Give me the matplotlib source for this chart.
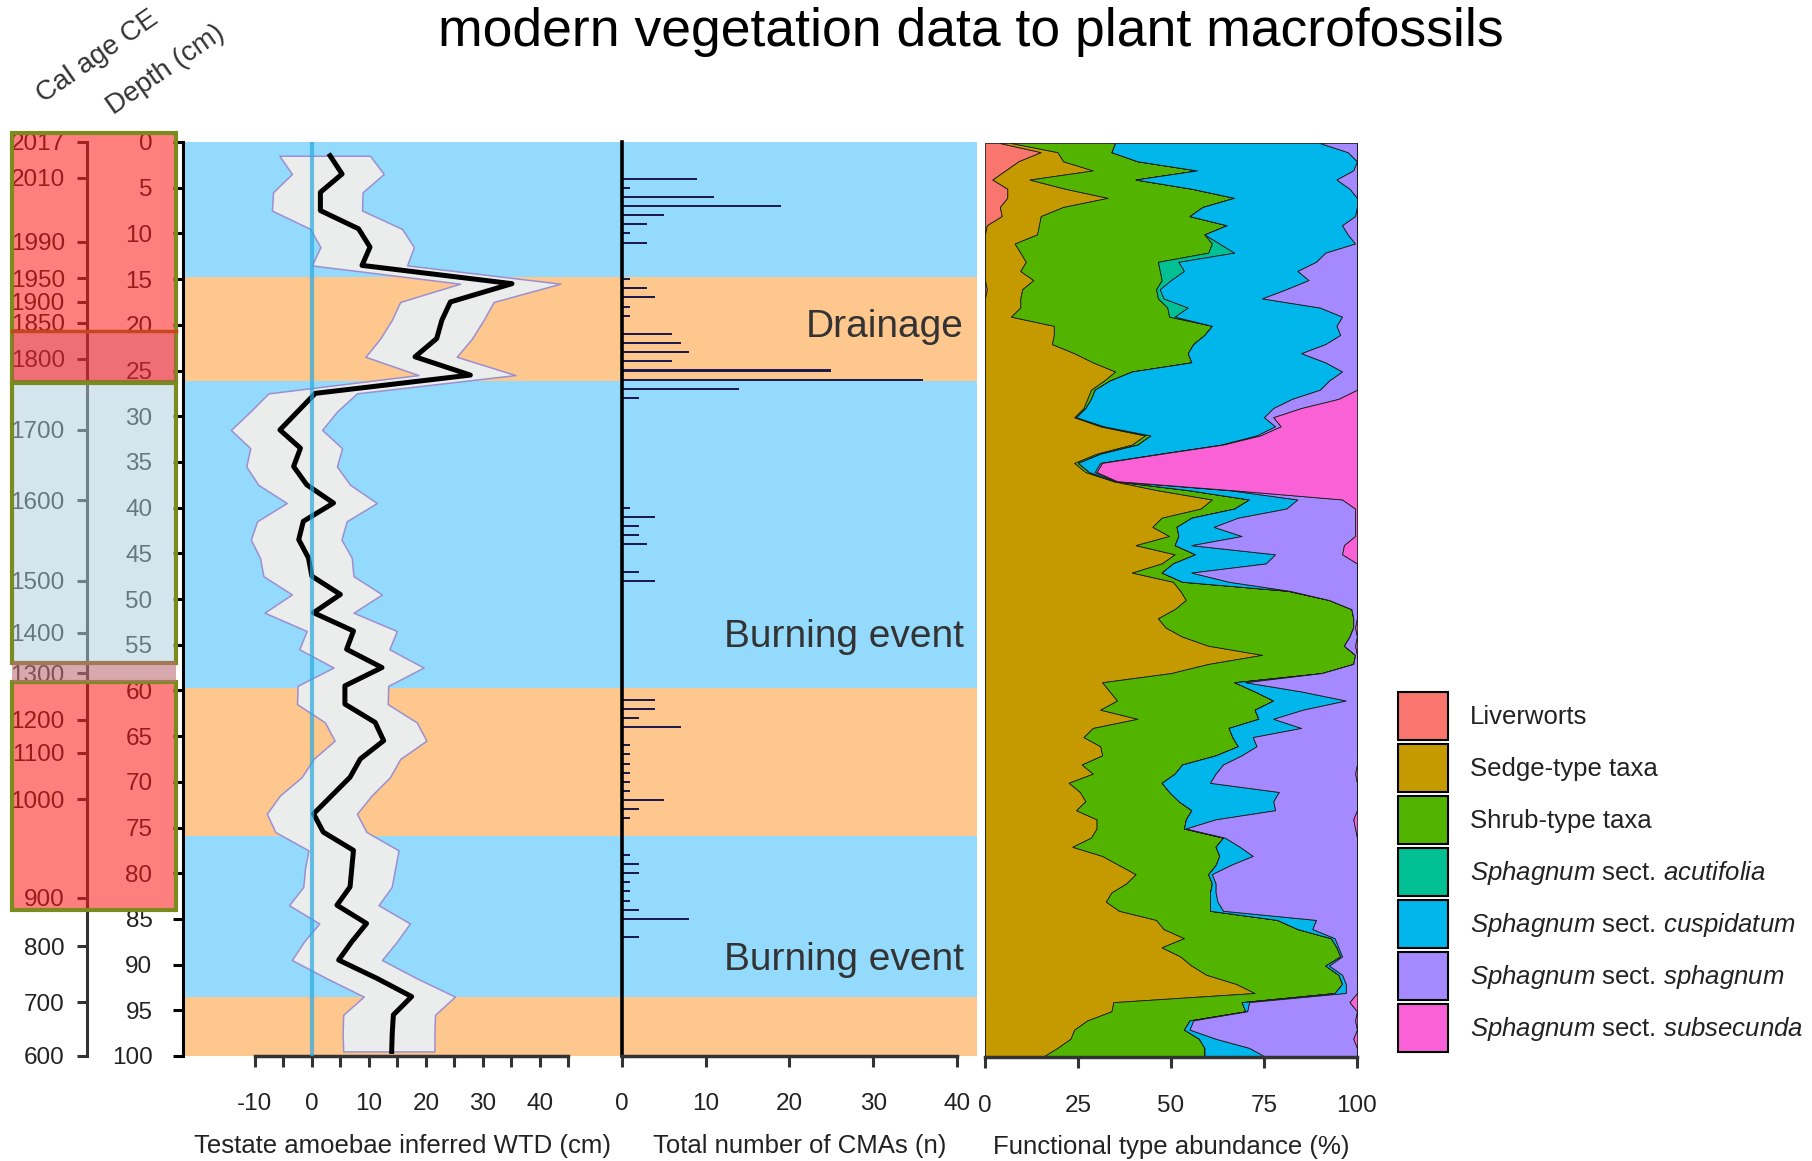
import numpy as np
import matplotlib
matplotlib.use('Agg')
import matplotlib.pyplot as plt
from matplotlib.patches import Patch, Rectangle

plt.rcParams['font.family'] = ['Liberation Sans', 'DejaVu Sans']
plt.rcParams['mathtext.fontset'] = 'custom'
plt.rcParams['mathtext.rm'] = 'Liberation Sans'
plt.rcParams['mathtext.it'] = 'Liberation Sans:italic'
plt.rcParams['axes.unicode_minus'] = False

W, H = 1812, 1161

# ---------------- data ----------------
# hydrological zones (depth in cm), wet = blue, dry = orange
zone_top = [0, 14.8, 26.2, 59.7, 75.9, 93.5]
zone_bottom = [14.8, 26.2, 59.7, 75.9, 93.5, 100]
zone_wet = [True, False, True, False, True, False]

# age-depth scale
age_labels = ['2017', '2010', '1990', '1950', '1900', '1850', '1800', '1700', '1600',
              '1500', '1400', '1300', '1200', '1100', '1000', '900', '800', '700', '600']
age_depth = [0, 3.9, 10.9, 14.9, 17.5, 19.8, 23.7, 31.5, 39.2,
             48.0, 53.7, 58.1, 63.2, 66.8, 71.9, 82.7, 88.0, 94.1, 100]

# testate amoebae inferred water table depth (cm)
wtd_depth = [1.5, 3.5, 5.5, 7.5, 9.5, 11.5, 13.5, 15.5, 17.5, 19.5,
             21.5, 23.5, 25.5, 27.5, 29.5, 31.5, 33.5, 35.5, 37.5, 39.5,
             41.5, 43.5, 45.5, 47.5, 49.5, 51.5, 53.5, 55.5, 57.5, 59.5,
             61.5, 63.5, 65.5, 67.5, 69.5, 71.5, 73.5, 75.5, 77.5, 79.5,
             81.5, 83.5, 85.5, 87.5, 89.5, 91.5, 93.5, 95.5, 97.5, 99.5]
wtd_mean = [3.2, 5.3, 1.5, 1.5, 8.2, 10.2, 8.8, 35.1, 24.3, 22.8,
            21.9, 18.1, 27.8, 0.6, -2.5, -5.6, -2.0, -3.2, -0.9, 3.8,
            -1.5, -2.3, -0.6, 0.0, 5.0, 0.3, 7.3, 6.1, 12.3, 5.8,
            5.8, 11.1, 12.6, 8.5, 6.7, 3.5, 0.3, 2.0, 7.3, 7.0,
            6.7, 4.4, 9.6, 7.0, 4.7, 11.4, 17.5, 14.3, 14.1, 14.0]
wtd_lo = [-5.7, -3.5, -6.8, -7.0, -0.3, 1.5, 0.0, 26.0, 15.5, 14.0,
          12.0, 9.4, 18.7, -7.6, -10.8, -14.2, -10.8, -11.5, -9.4, -4.4,
          -9.6, -10.7, -9.1, -8.5, -3.5, -8.3, -0.9, -2.2, 3.8, -2.5,
          -2.6, 2.3, 4.0, 0.3, -1.8, -5.6, -7.9, -6.4, -0.6, -1.2,
          -1.5, -4.0, 1.3, -1.4, -3.5, 2.6, 9.1, 5.5, 5.4, 5.5]
wtd_hi = [10.2, 12.6, 8.9, 8.8, 15.8, 17.9, 16.7, 43.6, 31.9, 30.1,
          28.1, 25.4, 35.7, 7.9, 4.4, 1.8, 5.3, 4.4, 6.7, 11.4,
          6.1, 5.2, 7.0, 7.3, 12.3, 7.3, 14.9, 13.6, 19.6, 13.4,
          13.3, 18.4, 20.1, 15.5, 13.7, 10.5, 7.9, 9.6, 15.2, 14.6,
          14.0, 11.7, 17.2, 14.9, 12.3, 18.4, 25.1, 21.6, 21.5, 21.5]

# charcoal morphotypes per sample
cma_depth = [4, 5, 6, 7, 8, 9, 10, 11, 15, 16, 17, 18, 19,
             21, 22, 23, 24, 25, 26, 27, 28, 40, 41, 42, 43, 44, 47, 48,
             61, 62, 63, 64, 66, 67, 68, 69, 70, 71, 72, 73, 74,
             78, 79, 80, 81, 82, 83, 84, 85, 87]
cma_count = [9, 1, 11, 19, 5, 3, 1, 3, 1, 3, 4, 1, 1,
             6, 7, 8, 6, 25, 36, 14, 2, 1, 4, 2, 2, 3, 2, 4,
             4, 4, 2, 7, 1, 1, 1, 1, 1, 1, 5, 2, 1,
             1, 2, 2, 1, 1, 1, 2, 8, 2]

# plant macrofossil functional types (%), 1 cm slices
veg_depth = list(range(0, 101))
liverworts = [4, 15, 9, 5.5, 2, 6, 6, 4, 4.5, 0.5,
              0, 0, 0, 0, 0, 0, 0.5, 0, 0, 0,
              0, 0, 0, 0, 0, 0, 0, 0, 0, 0,
              0, 0, 0, 0, 0, 0, 0, 0, 0, 0,
              0, 0, 0, 0, 0, 0, 0, 0, 0, 0,
              0, 0, 0, 0, 0, 0, 0, 0, 0, 0,
              0, 0, 0, 0, 0, 0, 0, 0, 0, 0,
              0, 0, 0, 0, 0, 0, 0, 0, 0, 0,
              0, 0, 0, 0, 0, 0, 0, 0, 0, 0,
              0, 0, 0, 0, 0, 0, 0, 0, 0, 0,
              0]
sedge = [3, 4.5, 12, 23.5, 10, 15.5, 27, 17, 10.5, 14,
         14, 8, 9.5, 11, 9.5, 13, 9.5, 9.5, 9.5, 7,
         18.5, 18.5, 18, 24, 29, 35, 32, 28.5, 27.5, 26.5,
         24, 31, 43, 39.5, 30, 24, 27, 34.5, 46.5, 61,
         58, 47.5, 45, 49.5, 40.5, 51, 47.5, 39.5, 50.5, 52.5,
         54, 51, 46.5, 48.5, 53, 60, 74.5, 60, 50, 31.5,
         33.5, 35.5, 31, 41, 29, 26.5, 31, 31.5, 26, 29,
         22.5, 25.5, 27, 24.5, 30, 30, 28.5, 23.5, 31.5, 36,
         40.5, 38, 34, 32.5, 36, 46, 48, 53.5, 47.5, 52.5,
         55.5, 59.5, 67.5, 72.5, 34.5, 34, 27.5, 24, 23, 19.5,
         15.5]
shrub = [28, 14.5, 20, 28, 28.5, 34, 34, 37.5, 40, 50.5,
         45, 53, 50.5, 35.5, 37.5, 34.5, 36, 37, 39.5, 42.5,
         42.5, 40.5, 38, 30.5, 26.5, 4.5, 1.5, 1, 1, 0.5,
         0.5, 1, 1.5, 1.5, 1, 1, 1, 0.5, 8.5, 10,
         9, 8, 6.5, 2.5, 10.5, 5.5, 3, 8, 2.5, 29,
         38.5, 47.5, 52.5, 50.5, 45, 36.5, 25, 39, 40.5, 35.5,
         39, 42, 41.5, 32.5, 36.5, 40, 37, 30.5, 27, 22,
         25, 24, 25, 31, 24, 23.5, 35.5, 38.5, 31.5, 26,
         19.5, 23, 26.5, 28, 24.5, 32.5, 36, 39.5, 47, 43,
         36, 35.5, 28.5, 21.5, 34.5, 36, 27.5, 29.5, 34.5, 39.5,
         43.5]
acutifolia = [0, 0, 0, 0, 0, 0, 0, 0, 0, 0,
              0, 2, 7, 5.5, 6.5, 2.5, 1, 1.5, 5.5, 1.5,
              0, 0, 0, 0, 0, 0, 0, 0, 0, 0,
              0, 0, 0, 0, 0, 0, 0, 0, 0, 0,
              0, 0, 0, 0, 0, 0, 0, 0, 0, 0,
              0, 0, 0, 0, 0, 0, 0, 0, 0, 0,
              0, 0, 0, 0, 0, 0, 0, 0, 0, 0,
              0, 0, 0, 0, 0, 0, 0, 0, 0, 0,
              0, 0, 0, 0, 0, 0, 0, 0, 0, 0,
              0, 0, 0, 0, 0, 0, 0, 0, 0, 0,
              0]
cuspidatum = [55, 63.5, 59, 42, 54, 42.5, 33, 41.5, 44.5, 31,
              38.5, 36.5, 24.5, 37, 30.5, 37, 34, 26.5, 35.5, 45,
              33.5, 36.5, 35.5, 30.5, 36, 56.5, 59, 60.5, 54, 50.5,
              50.5, 46, 28.5, 22.5, 16, 6, 1.5, 0.5, 11, 13,
              14, 12.5, 10, 17, 4.5, 21.5, 25, 8, 12.5, 0.5,
              0, 0, 0, 0, 0, 0, 0, 0, 0, 3,
              12.5, 19.5, 13, 4, 19.5, 5.5, 5, 7, 11, 11,
              13, 29.5, 25.5, 22.5, 8, 0.5, 0.5, 6.5, 9, 4,
              1, 1, 1.5, 2, 3.5, 10.5, 4, 1, 0.5, 0.5,
              1, 1, 1, 3, 2, 0.5, 1, 1.5, 4.5, 12,
              16.5]
sphagnum = [10, 2.5, 0, 1, 5.5, 2, 0, 0, 0.5, 4,
            2.5, 0.5, 8.5, 11, 16, 13, 19, 25.5, 10, 4,
            5.5, 4.5, 8.5, 15, 8.5, 4, 7.5, 10, 12.5, 7.5,
            2.5, 1.5, 1, 0.5, 0.5, 0.5, 0.5, 0, 1, 12,
            18.5, 31.5, 38, 30.5, 41, 18, 24.5, 44.5, 34.5, 18,
            7.5, 1.5, 1, 0.5, 2, 3, 0.5, 1, 9.5, 30,
            15, 3, 14.5, 22.5, 15, 28, 27, 31, 36, 37.5,
            39.5, 21, 22.5, 22, 37, 45.5, 35.5, 31.5, 28, 34,
            39, 38, 38, 37.5, 36, 11, 12, 6, 5, 4,
            7.5, 4, 3, 3, 27, 29.5, 43.5, 45, 37, 29,
            24.5]
subsecunda = [0, 0, 0, 0, 0, 0, 0, 0, 0, 0,
              0, 0, 0, 0, 0, 0, 0, 0, 0, 0,
              0, 0, 0, 0, 0, 0, 0, 0, 5, 15,
              22.5, 20.5, 26, 36, 52.5, 68.5, 70, 64.5, 33, 4,
              0.5, 0.5, 0.5, 0.5, 3.5, 4, 0, 0, 0, 0,
              0, 0, 0, 0.5, 0, 0.5, 0, 0, 0, 0,
              0, 0, 0, 0, 0, 0, 0, 0, 0, 0.5,
              0, 0, 0, 0, 1, 0.5, 0, 0, 0, 0,
              0, 0, 0, 0, 0, 0, 0, 0, 0, 0,
              0, 0, 0, 0, 2, 0, 0.5, 0, 1, 0,
              0]

veg_series = [liverworts, sedge, shrub, acutifolia, cuspidatum, sphagnum, subsecunda]
veg_labels = ['Liverworts', 'Sedge-type taxa', 'Shrub-type taxa',
              r'$\it{Sphagnum}$ sect. $\it{acutifolia}$',
              r'$\it{Sphagnum}$ sect. $\it{cuspidatum}$',
              r'$\it{Sphagnum}$ sect. $\it{sphagnum}$',
              r'$\it{Sphagnum}$ sect. $\it{subsecunda}$']
veg_colors = ['#F8766D', '#C49A00', '#53B400', '#00C094', '#00B6EB', '#A58AFF', '#FB61D7']

# events annotated in the CMA panel
event_labels = ['Drainage', 'Burning event', 'Burning event']
event_depth = [20.2, 54.2, 89.5]

# highlighted age zones next to the depth scale
box_top = [-1.0, 26.4, 59.1]
box_bottom = [26.3, 57.0, 84.0]
box_kind = ['red', 'blue', 'red']

WET = '#93DAFD'
DRY = '#FEC78E'
TXT = '#222222'
FS = 17.5


def px_box(left, top, right, bottom):
    return [left / W, 1 - bottom / H, (right - left) / W, (bottom - top) / H]


fig = plt.figure(figsize=(W / 100, H / 100), dpi=100)

# ---------------- age axis ----------------
ax_age = fig.add_axes(px_box(87, 142, 88, 1056))
ax_age.set_ylim(100, 0)
ax_age.set_xticks([])
ax_age.patch.set_visible(False)
for s in ['top', 'right', 'bottom']:
    ax_age.spines[s].set_visible(False)
ax_age.spines['left'].set_linewidth(2.2)
ax_age.spines['left'].set_color('#333333')
ax_age.set_yticks(age_depth)
ax_age.set_yticklabels(age_labels)
ax_age.tick_params(axis='y', length=7, width=2.2, pad=9, labelsize=FS,
                   color='#333333', labelcolor=TXT)

# ---------------- WTD panel ----------------
ax_wtd = fig.add_axes(px_box(183, 142, 622, 1056))
ax_cma = fig.add_axes(px_box(622, 142, 977, 1056))

for ax in (ax_wtd, ax_cma):
    for top, bot, wet in zip(zone_top, zone_bottom, zone_wet):
        ax.axhspan(top, bot, color=WET if wet else DRY, lw=0, zorder=0)
    ax.set_ylim(100, 0)
    ax.spines['top'].set_visible(False)
    ax.spines['right'].set_visible(False)

ax_wtd.fill_betweenx(wtd_depth, wtd_lo, wtd_hi, facecolor='#EBEDED',
                     edgecolor='#9C8FCF', lw=1.1, zorder=2)
ax_wtd.plot(wtd_mean, wtd_depth, color='black', lw=3.6, zorder=3)
ax_wtd.axvline(0, color='#2AA9E0', alpha=0.7, lw=3, zorder=4)
ax_wtd.set_xlim(-22.6, 54.4)
ax_wtd.spines['bottom'].set_bounds(-10, 45)
ax_wtd.spines['bottom'].set_linewidth(2.5)
ax_wtd.spines['bottom'].set_color('#333333')
ax_wtd.spines['left'].set_linewidth(2.2)
ax_wtd.set_xticks([-10, 0, 10, 20, 30, 40])
ax_wtd.set_xticks([-5, 5, 15, 25, 35, 45], minor=True)
ax_wtd.set_yticks(range(0, 101, 5))
ax_wtd.tick_params(axis='x', which='both', length=8, width=2.2, color='#333333')
ax_wtd.tick_params(axis='x', which='major', pad=19, labelsize=FS, labelcolor=TXT)
ax_wtd.tick_params(axis='y', length=7, width=2.2, pad=15, labelsize=FS, labelcolor=TXT)
ax_wtd.set_xlabel('Testate amoebae inferred WTD (cm)', fontsize=18.5, color=TXT)
ax_wtd.xaxis.set_label_coords(0.5, -0.098)
ax_wtd.xaxis.label.set_va('center')

# ---------------- CMA panel ----------------
ax_cma.barh(cma_depth, cma_count, height=0.22, color='#1F1C4D', zorder=2)
ax_cma.set_xlim(0, 42.4)
ax_cma.spines['left'].set_linewidth(2.6)
ax_cma.spines['bottom'].set_bounds(0, 40)
ax_cma.spines['bottom'].set_linewidth(2.5)
ax_cma.spines['bottom'].set_color('#333333')
ax_cma.set_xticks([0, 10, 20, 30, 40])
ax_cma.tick_params(axis='x', length=8, width=2.2, pad=19, labelsize=FS,
                   color='#333333', labelcolor=TXT)
ax_cma.tick_params(axis='y', left=False, labelleft=False)
ax_cma.set_xlabel('Total number of CMAs (n)', fontsize=18.5, color=TXT)
ax_cma.xaxis.set_label_coords(0.5, -0.098)
ax_cma.xaxis.label.set_va('center')
for lab, d in zip(event_labels, event_depth):
    ax_cma.text(40.8, d, lab, ha='right', va='center', fontsize=28, color='#333333', zorder=5)

# ---------------- functional types ----------------
ax_veg = fig.add_axes(px_box(985, 143, 1357, 1057))
left = np.zeros(len(veg_depth))
for vals, col in zip(veg_series, veg_colors):
    right = left + np.array(vals)
    ax_veg.fill_betweenx(veg_depth, left, right, facecolor=col,
                         edgecolor='#1a1a1a', lw=0.6)
    left = right
ax_veg.set_xlim(0, 100)
ax_veg.set_ylim(100, 0)
for s in ['top', 'right', 'left']:
    ax_veg.spines[s].set_visible(False)
ax_veg.spines['bottom'].set_linewidth(2.5)
ax_veg.spines['bottom'].set_color('#333333')
ax_veg.set_yticks([])
ax_veg.set_xticks([0, 25, 50, 75, 100])
ax_veg.tick_params(axis='x', length=8, width=2.2, pad=19, labelsize=FS,
                   color='#333333', labelcolor=TXT)
ax_veg.set_xlabel('Functional type abundance (%)', fontsize=18.5, color=TXT)
ax_veg.xaxis.set_label_coords(0.5, -0.098)
ax_veg.xaxis.label.set_va('center')

handles = [Patch(facecolor=c, edgecolor='black', lw=1.5) for c in veg_colors]
fig.legend(handles, veg_labels, loc='upper left',
           bbox_to_anchor=(1398 / W, 1 - 692 / H), frameon=False, fontsize=18.5,
           handlelength=1.95, handleheight=2.5, labelspacing=0.156,
           handletextpad=0.85, borderpad=0, borderaxespad=0, labelcolor=TXT)

# ---------------- age zone boxes ----------------
ax_zone = fig.add_axes(px_box(12, 142, 176, 1056))
ax_zone.set_xlim(0, 1)
ax_zone.set_ylim(100, 0)
ax_zone.axis('off')
fills = {'red': (1.0, 0.086, 0.086, 0.55), 'blue': (0.68, 0.80, 0.87, 0.5)}
for top, bot, kind in zip(box_top, box_bottom, box_kind):
    ax_zone.add_patch(Rectangle((0, top), 1, bot - top, facecolor=fills[kind],
                                edgecolor='#7B8B1E', lw=3, clip_on=False))
# darker overlap at the base of the upper zone and between the lower zones
ax_zone.add_patch(Rectangle((0, 20.7), 1, 26.3 - 20.7, facecolor=(0.78, 0.24, 0.35, 0.25),
                            lw=0, clip_on=False))
ax_zone.plot([0, 1], [20.7, 20.7], color='#C5481C', lw=2.5, clip_on=False)
ax_zone.add_patch(Rectangle((0, 56.8), 1, 59.1 - 56.8, facecolor=(0.745, 0.43, 0.48, 0.6),
                            lw=0, clip_on=False))

# ---------------- titles ----------------
fig.text(971 / W, 1 - 46 / H, 'modern vegetation data to plant macrofossils',
         ha='center', va='baseline', fontsize=38.5, color='black')
fig.text(44 / W, 1 - 103 / H, 'Cal age CE', rotation=35, rotation_mode='anchor',
         ha='left', va='baseline', fontsize=20, color='#333333')
fig.text(114 / W, 1 - 115 / H, 'Depth (cm)', rotation=35, rotation_mode='anchor',
         ha='left', va='baseline', fontsize=20, color='#333333')

fig.savefig('out.png', dpi=100)
